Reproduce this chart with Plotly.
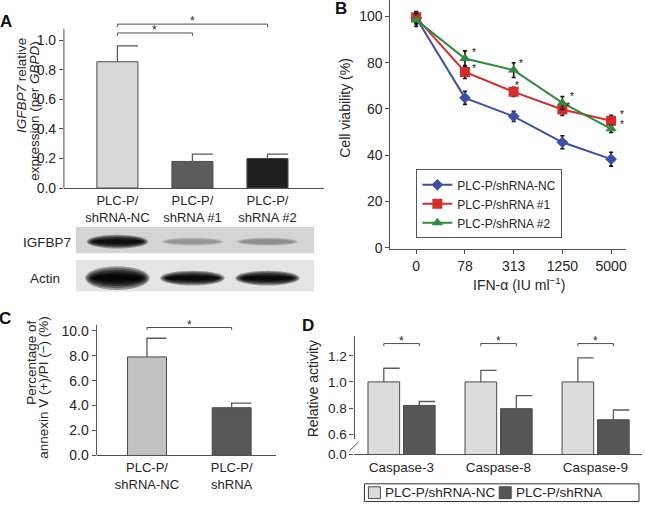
import plotly.graph_objects as go

W, H = 645, 512
def fx(p): return p / W
def fy(p): return 1 - p / H

FONT = "Liberation Sans, Arial, Helvetica, sans-serif"
AXC = "#4f4f4f"
TXT = "#262626"

# ---------------- data ----------------
# Panel A: IGFBP7 relative expression
a_categories = ["PLC-P/<br>shRNA-NC", "PLC-P/<br>shRNA #1", "PLC-P/<br>shRNA #2"]
a_values = [0.855, 0.18, 0.20]
a_errors = [0.107, 0.05, 0.03]
a_yticks = [0.0, 0.2, 0.4, 0.6, 0.8, 1.0]
a_sig_pairs = [(0, 1), (0, 2)]
a_sig_heights = [1.05, 1.11]

# Western blot (band intensity, 0 = none, 1 = black)
blot_rows = ["IGFBP7", "Actin"]
blot_igfbp7 = [0.93, 0.30, 0.34]
blot_actin = [0.97, 0.95, 0.95]

# Panel B: cell viability
b_doses = ["0", "78", "313", "1250", "5000"]
b_names = ["PLC-P/shRNA-NC", "PLC-P/shRNA #1", "PLC-P/shRNA #2"]
b_nc = [99.3, 64.8, 56.8, 45.6, 38.3]
b_nc_err = [2.6, 2.8, 2.2, 2.8, 3.0]
b_sh1 = [99.6, 76.0, 67.4, 59.8, 54.9]
b_sh1_err = [2.5, 2.8, 2.0, 2.6, 2.4]
b_sh2 = [98.5, 81.8, 76.8, 62.6, 51.4]
b_sh2_err = [2.8, 3.3, 3.2, 2.8, 1.6]
b_yticks = [0, 20, 40, 60, 80, 100]
b_star_idx = [1, 2, 3, 4]

# Panel C: annexin V(+)/PI(-)
c_categories = ["PLC-P/<br>shRNA-NC", "PLC-P/<br>shRNA"]
c_values = [7.9, 3.83]
c_errors = [1.5, 0.37]
c_yticks = [0, 2, 4, 6, 8, 10]
c_sig_pairs = [(0, 1)]
c_sig_heights = [10.26]

# Panel D: caspase activity
d_categories = ["Caspase-3", "Caspase-8", "Caspase-9"]
d_names = ["PLC-P/shRNA-NC", "PLC-P/shRNA"]
d_nc = [1.0, 1.0, 1.0]
d_nc_err = [0.105, 0.088, 0.185]
d_sh = [0.82, 0.795, 0.71]
d_sh_err = [0.03, 0.10, 0.075]
d_yticks = [0.6, 0.8, 1.0, 1.2]
d_sig_heights = [1.294, 1.294, 1.294]

# ---------------- styles ----------------
a_colors = ["#d9d9d9", "#5c5c5c", "#1f1f1f"]
c_colors = ["#c2c2c2", "#575757"]
d_colors = ["#dcdcdc", "#565656"]
b_colors = ["#3f4fa6", "#d42b2b", "#2f8a40"]
b_symbols = ["diamond", "square", "triangle-up"]
b_sizes = [9, 10, 10]
# star placement (px) beside the #1 / #2 points
b_star_dx = [[9, 3, 6, 11], [9, 7, 10, 11]]
b_star_dy = [[5, 8, 5, 8], [8, 9, 8, 6]]

fig = go.Figure()


def half_caps(xs, vals, errs, cap):
    ex, ey = [], []
    for x, v, e in zip(xs, vals, errs):
        ex += [x, x, x + cap, None]
        ey += [v, v + e, v + e, None]
    return ex, ey


def bracket(x0, x1, h, drop, xref, yref, star_font=12):
    fig.add_shape(type="path",
                  path=f"M{x0},{h - drop} L{x0},{h} L{x1},{h} L{x1},{h - drop}",
                  xref=xref, yref=yref, line=dict(color=AXC, width=1))
    fig.add_annotation(x=(x0 + x1) / 2, y=h, xref=xref, yref=yref, text="*",
                       showarrow=False, xanchor="center", yanchor="middle", yshift=3,
                       font=dict(size=star_font, color=TXT, family=FONT))


def ptext(text, xc, yc, size=14, angle=0, bold=False, color=TXT, xanchor="center"):
    fig.add_annotation(x=fx(xc), y=fy(yc), xref="paper", yref="paper",
                       text=f"<b>{text}</b>" if bold else text, textangle=angle,
                       showarrow=False, xanchor=xanchor, yanchor="middle",
                       font=dict(size=size, color=color, family=FONT))


def pline(x0, y0, x1, y1, color="#333333"):
    fig.add_shape(type="line", xref="paper", yref="paper",
                  x0=fx(x0), y0=fy(y0), x1=fx(x1), y1=fy(y1),
                  line=dict(color=color, width=1))


# ---------------- Panel A ----------------
a_x = list(range(len(a_values)))
A_BW = 0.547
fig.add_trace(go.Bar(x=a_x, y=a_values, width=A_BW,
                     marker=dict(color=a_colors, line=dict(color="#4a4a4a", width=1)),
                     xaxis="x", yaxis="y", showlegend=False, hoverinfo="skip"))
ex, ey = half_caps(a_x, a_values, a_errors, A_BW / 2)
fig.add_trace(go.Scatter(x=ex, y=ey, mode="lines", line=dict(color="#5a5a5a", width=1.3),
                         xaxis="x", yaxis="y", showlegend=False, hoverinfo="skip"))
for (i, j), h in zip(a_sig_pairs, a_sig_heights):
    bracket(a_x[i], a_x[j], h, 0.02, "x", "y")
fig.add_shape(type="line", xref="x domain", yref="y", x0=0, x1=0, y0=0, y1=1.078,
              line=dict(color=AXC, width=1))

# ---------------- Western blot ----------------
strips = [(230.7, 257.3, 212), (264, 296, 228)]
bands = [
    (blot_igfbp7, 245.5, [14, 8, 8], 0.41),
    (blot_actin, 282.5, [24, 15, 15], 0.43),
]
layers = [(1.0, 1.0, 0.35), (0.95, 0.85, 0.6), (0.9, 0.68, 0.8), (0.85, 0.5, 0.92), (0.8, 0.32, 1.0)]
for (top, bot, bg), (inten, yc, hts, hw) in zip(strips, bands):
    g = f"rgb({bg},{bg},{bg})"
    fig.add_shape(type="rect", xref="x", yref="paper", x0=-0.553, x1=2.62,
                  y0=fy(bot), y1=fy(top), fillcolor=g, line=dict(width=0), layer="below")
    for i, t in enumerate(inten):
        for scale_w, scale_h, k in layers:
            lv = int(round(bg * (1 - k * t)))
            c = f"rgb({lv},{lv},{lv})"
            fig.add_shape(type="circle", xref="x", yref="paper",
                          x0=a_x[i] - hw * scale_w, x1=a_x[i] + hw * scale_w,
                          y0=fy(yc + hts[i] * scale_h / 2), y1=fy(yc - hts[i] * scale_h / 2),
                          fillcolor=c, line=dict(width=0))

for lab, (xc, yc) in zip(blot_rows, [(47.5, 246), (45.5, 282.7)]):
    ptext(lab, xc, yc, size=13.5)

# ---------------- Panel B ----------------
b_x = list(range(len(b_doses)))
for name, vals, errs, col, sym, sz in zip(b_names, [b_nc, b_sh1, b_sh2],
                                          [b_nc_err, b_sh1_err, b_sh2_err],
                                          b_colors, b_symbols, b_sizes):
    fig.add_trace(go.Scatter(x=b_x, y=vals, name=name, mode="lines+markers",
                             line=dict(color=col, width=2),
                             marker=dict(symbol=sym, size=sz, color=col),
                             error_y=dict(type="data", array=errs, color="#111111",
                                          thickness=1.6, width=2),
                             xaxis="x2", yaxis="y2", legend="legend", hoverinfo="skip"))
for s, vals in enumerate([b_sh1, b_sh2]):
    for k, i in enumerate(b_star_idx):
        fig.add_annotation(x=b_x[i], y=vals[i], xref="x2", yref="y2", text="*",
                           showarrow=False, xanchor="center", yanchor="middle",
                           xshift=b_star_dx[s][k], yshift=b_star_dy[s][k] - 2,
                           font=dict(size=10, color="#111111", family=FONT))

# ---------------- Panel C ----------------
c_x = list(range(len(c_values)))
C_BW = 0.46
fig.add_trace(go.Bar(x=c_x, y=c_values, width=C_BW,
                     marker=dict(color=c_colors, line=dict(color="#4a4a4a", width=1)),
                     xaxis="x3", yaxis="y3", showlegend=False, hoverinfo="skip"))
ex, ey = half_caps(c_x, c_values, c_errors, C_BW / 2)
fig.add_trace(go.Scatter(x=ex, y=ey, mode="lines", line=dict(color="#5a5a5a", width=1.3),
                         xaxis="x3", yaxis="y3", showlegend=False, hoverinfo="skip"))
for (i, j), h in zip(c_sig_pairs, c_sig_heights):
    bracket(c_x[i], c_x[j], h, 0.2, "x3", "y3")
fig.add_shape(type="line", xref="x3 domain", yref="y3", x0=0, x1=0, y0=0, y1=10.47,
              line=dict(color=AXC, width=1))

# ---------------- Panel D ----------------
d_x = list(range(len(d_categories)))
D_BW = 0.326
D_OFF = [-0.181, 0.185]
for name, vals, errs, col, off in zip(d_names, [d_nc, d_sh], [d_nc_err, d_sh_err],
                                      d_colors, D_OFF):
    fig.add_trace(go.Bar(x=d_x, y=vals, name=name, width=D_BW, offset=off - D_BW / 2,
                         marker=dict(color=col, line=dict(color="#4a4a4a", width=1)),
                         xaxis="x4", yaxis="y4", showlegend=False, hoverinfo="skip"))
    ex, ey = half_caps([x + off for x in d_x], vals, errs, D_BW / 2)
    fig.add_trace(go.Scatter(x=ex, y=ey, mode="lines", line=dict(color="#5a5a5a", width=1.3),
                             xaxis="x4", yaxis="y4", showlegend=False, hoverinfo="skip"))
for i, h in zip(d_x, d_sig_heights):
    bracket(i + D_OFF[0], i + D_OFF[1], h, 0.02, "x4", "y4")
fig.add_shape(type="line", xref="x4 domain", yref="y4", x0=0, x1=0, y0=0.562, y1=1.351,
              line=dict(color=AXC, width=1))
fig.add_shape(type="line", xref="x4 domain", yref="y4", x0=-0.017, x1=0.014, y0=0.472, y1=0.54,
              line=dict(color=AXC, width=1))

# boxed key beneath panel D
for seg in [(365, 491.5, 640, 491.5), (640, 491.5, 640, 509.5),
            (640, 509.5, 365, 509.5), (365, 509.5, 365, 491.5)]:
    pline(*seg)
for name, col, (sx, tx) in zip(d_names, d_colors, [(375, 383.5), (506, 514.5)]):
    fig.add_shape(type="rect", xref="paper", yref="paper", x0=fx(sx - 6), x1=fx(sx + 6),
                  y0=fy(506.5), y1=fy(494.5), fillcolor=col,
                  line=dict(color="#4a4a4a", width=1))
    ptext(name, tx, 500.5, size=13.5, xanchor="left")

# ---------------- titles & panel letters ----------------
ptext("<i>IGFBP7</i> relative", 21.5, 87, angle=-90, size=13.5)
ptext("expression (per <i>GBPD</i>)", 35, 112.5, angle=-90, size=13.5)
ptext("Cell viability (%)", 346, 109, angle=-90)
ptext("Percentage of", 31.5, 368, angle=-90, size=13.5)
ptext("annexin V (+)/PI (\u2212) (%)", 44, 393, angle=-90, size=13.5)
ptext("Relative activity", 313, 395, angle=-90)
ptext("IFN-\u03b1 (IU ml<sup>\u22121</sup>)", 520, 288)
for lab, (xc, yc) in zip(["A", "B", "C", "D"], [(6, 21.5), (341.5, 9), (5, 324), (308.5, 331)]):
    ptext(lab, xc, yc, size=17, bold=True, color="#111111")

# ---------------- axes ----------------
base = dict(showgrid=False, zeroline=False, fixedrange=True, color=TXT,
            linecolor=AXC, tickcolor=AXC, linewidth=1)

fig.update_layout(
    width=W, height=H, margin=dict(l=0, r=0, t=0, b=0),
    paper_bgcolor="white", plot_bgcolor="rgba(0,0,0,0)",
    font=dict(family=FONT, color=TXT, size=14),
    barmode="overlay", hovermode=False,
    xaxis=dict(base, domain=[fx(64), fx(325)], range=[-0.713, 2.76], anchor="y",
               tickvals=a_x, ticktext=a_categories, showline=True, ticks="",
               tickfont=dict(size=13)),
    yaxis=dict(base, domain=[fy(191), fy(14)], range=[0, 1.18], anchor="x",
               tickvals=a_yticks, ticktext=[f"{v:.1f}" for v in a_yticks],
               showline=False, ticks="outside", ticklen=4, tickfont=dict(size=14)),
    xaxis2=dict(base, domain=[fx(391), fx(626.7)], range=[-0.53, 4.3], anchor="y2",
                tickvals=b_x, ticktext=b_doses, showline=True, ticks="outside", ticklen=4,
                tickfont=dict(size=14)),
    yaxis2=dict(base, domain=[fy(253.3), fy(0)], range=[-0.68, 107.1], anchor="x2",
                tickvals=b_yticks, showline=True, ticks="outside", ticklen=4,
                tickfont=dict(size=14)),
    xaxis3=dict(base, domain=[fx(96.7), fx(276.7)], range=[-0.596, 1.527], anchor="y3",
                tickvals=c_x, ticktext=c_categories, showline=True, ticks="",
                tickfont=dict(size=13)),
    yaxis3=dict(base, domain=[fy(462.7), fy(318)], range=[0, 11.42], anchor="x3",
                tickvals=c_yticks, ticktext=[f"{v:.1f}" for v in c_yticks],
                showline=False, ticks="outside", ticklen=4, tickfont=dict(size=14)),
    xaxis4=dict(base, domain=[fx(355), fx(643)], range=[-0.4836, 2.48], anchor="y4",
                tickvals=d_x, ticktext=d_categories, showline=True, ticks="",
                tickfont=dict(size=13.5)),
    yaxis4=dict(base, domain=[fy(461.7), fy(340)], range=[0.444, 1.362], anchor="x4",
                tickvals=[0.444] + d_yticks, ticktext=["0.0"] + [f"{v:.1f}" for v in d_yticks],
                showline=False, ticks="outside", ticklen=4, tickfont=dict(size=13.5)),
    legend=dict(x=fx(417), y=fy(172), xanchor="left", yanchor="top",
                bgcolor="white", bordercolor="#555555", borderwidth=1,
                font=dict(size=12, color=TXT, family=FONT), tracegroupgap=0),
)

fig.write_html("out.html", config={"displayModeBar": False},
               post_script="document.body.style.margin='0';")
